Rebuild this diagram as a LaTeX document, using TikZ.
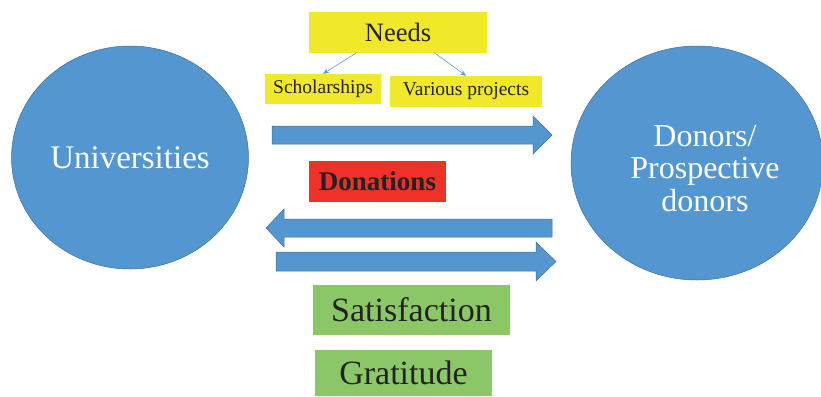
\documentclass[tikz,border=0pt]{standalone}
\usepackage{fontspec}
\setmainfont{Liberation Serif}
\usetikzlibrary{shapes.geometric, arrows.meta}

\definecolor{circblue}{HTML}{5496CF}
\definecolor{edgeblue}{HTML}{41719C}
\definecolor{thinblue}{HTML}{5B9BD5}
\definecolor{boxyellow}{HTML}{EFE929}
\definecolor{boxred}{HTML}{EE3129}
\definecolor{boxgreen}{HTML}{8BC766}
\definecolor{inkgray}{HTML}{222222}

\tikzset{
  party/.style={ellipse, fill=circblue, draw=edgeblue, line width=0.5pt,
    inner sep=0pt, text=white, align=center},
  tagbox/.style={rectangle, inner sep=0pt, text=inkgray},
  fatarrow/.style={fill=circblue, draw=edgeblue, line width=0.5pt},
  thinarrow/.style={->, thinblue, line width=0.6pt}
}

\begin{document}
\begin{tikzpicture}[x=1pt, y=-1pt, >={Stealth[length=6pt, width=5pt]}]
    \useasboundingbox (0,0) rectangle (821,396);

    % the two parties
    \node[party, minimum width=237pt, minimum height=223pt,
        font=\fontsize{33}{36}\selectfont] (univ) at (130,157.5) {Universities};
    \node[party, minimum width=252pt, minimum height=234pt,
        font=\fontsize{32}{32.5}\selectfont] (donors) at (697,163)
        {\hspace*{16pt}\raisebox{-9pt}[\height][\depth]{\begin{tabular}{@{}c@{}}
          Donors/\\Prospective\\donors\end{tabular}}};

    % what the universities need
    \node[tagbox, fill=boxyellow, minimum width=178pt, minimum height=41pt,
        font=\fontsize{26.5}{28}\selectfont] (needs) at (398,32.5) {Needs};
    \node[tagbox, fill=boxyellow, minimum width=116pt, minimum height=30pt,
        font=\fontsize{19.5}{22}\selectfont] (schol) at (323,89) {Scholarships};
    \node[tagbox, fill=boxyellow, minimum width=152pt, minimum height=31pt,
        font=\fontsize{19.5}{22}\selectfont] (projects) at (466,91.5) {Various projects};

    \draw[thinarrow] ([xshift=-42pt]needs.south) -- (schol.north);
    \draw[thinarrow] ([xshift=37pt]needs.south) -- (projects.north);

    % block arrows between the parties
    \draw[fatarrow] (272,126) -- (533,126) -- (533,116) -- (552,135)
        -- (533,154) -- (533,144) -- (272,144) -- cycle;
    \draw[fatarrow] (552,219) -- (284,219) -- (284,209) -- (266,228)
        -- (284,247) -- (284,237) -- (552,237) -- cycle;
    \draw[fatarrow] (276,252) -- (536,252) -- (536,242) -- (556,261.5)
        -- (536,281) -- (536,271) -- (276,271) -- cycle;

    % what flows back
    \node[tagbox, fill=boxred, minimum width=137pt, minimum height=41pt,
        font=\fontsize{27}{29}\selectfont\bfseries] (donations) at (377.5,181.5) {Donations};
    \node[tagbox, fill=boxgreen, minimum width=197pt, minimum height=50pt,
        font=\fontsize{34}{36}\selectfont] (satisf) at (411.5,310) {Satisfaction};
    \node[tagbox, fill=boxgreen, minimum width=177pt, minimum height=46pt,
        font=\fontsize{34}{36}\selectfont] (gratitude) at (403.5,373) {Gratitude};
\end{tikzpicture}
\end{document}
